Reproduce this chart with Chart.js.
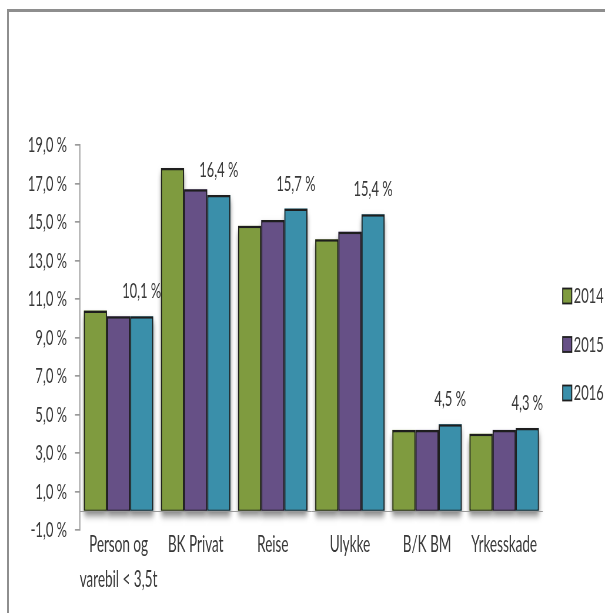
<!DOCTYPE html>
<html>
<head>
<meta charset="utf-8">
<script src="https://cdn.jsdelivr.net/npm/chart.js@4"></script>
<style>
    html, body { margin: 0; padding: 0; background: #ffffff; }
    #wrap { position: relative; width: 605px; height: 613px; overflow: hidden; }
    #frame {
        position: absolute; left: 7px; top: 9px; right: -10px; bottom: -10px;
        border-top: 3px solid #8e8e8e; border-left: 2px solid #8e8e8e;
    }
    /* the chart is drawn wide and squeezed back to 605px, which gives the tall narrow lettering */
    #squeeze { position: absolute; left: 0; top: 0; transform-origin: 0 0; }
</style>
</head>
<body>
<div id="wrap">
    <div id="frame"></div>
    <div id="squeeze"><canvas id="chart"></canvas></div>
</div>
<script>
const categories = [['Person og', 'varebil < 3,5t'], 'BK Privat', 'Reise', 'Ulykke', 'B/K BM', 'Yrkesskade'];
const years = ['2014', '2015', '2016'];
const values2014 = [10.4, 17.8, 14.8, 14.1, 4.2, 4.0];
const values2015 = [10.1, 16.7, 15.1, 14.5, 4.2, 4.2];
const values2016 = [10.1, 16.4, 15.7, 15.4, 4.5, 4.3];
const yTicks = [-1, 1, 3, 5, 7, 9, 11, 13, 15, 17, 19];

const SX = 1.7;            // horizontal squeeze factor
const W = 605, H = 613;

const colors = {
    green: '#7f9b3f',
    purple: '#665086',
    teal: '#3a8faa',
    edge: '#1e1e1e',
    axis: '#9a9a9a',
    text: '#383838'
};
const fontFamily = 'Lato, "Liberation Sans", sans-serif';

const canvas = document.getElementById('chart');
canvas.width = Math.round(W * SX);
canvas.height = H;
canvas.style.width = Math.round(W * SX) + 'px';
canvas.style.height = H + 'px';
document.getElementById('squeeze').style.transform = 'scaleX(' + (W / Math.round(W * SX)) + ')';

const fmt = function (v) {
    return v.toFixed(1).replace('.', ',') + ' %';
};

const barStyle = function (label, data, color) {
    return {
        label: label,
        data: data,
        backgroundColor: color,
        borderColor: colors.edge,
        borderWidth: { top: 2.5, left: 2, right: 2, bottom: 1.2 },
        borderSkipped: false,
        categoryPercentage: 0.9,
        barPercentage: 1.0
    };
};

// soft shadow under every bar, drawn before the bars themselves
const shadowPlugin = {
    id: 'barShadow',
    beforeDatasetsDraw: function (chart) {
        const ctx = chart.ctx;
        ctx.save();
        ctx.shadowColor = 'rgba(0,0,0,0.5)';
        ctx.shadowBlur = 7;
        ctx.shadowOffsetY = 5;
        chart.data.datasets.forEach(function (ds, i) {
            chart.getDatasetMeta(i).data.forEach(function (bar) {
                const p = bar.getProps(['x', 'y', 'base', 'width'], true);
                ctx.fillStyle = ds.backgroundColor;
                ctx.fillRect(p.x - p.width / 2, Math.min(p.y, p.base), p.width, Math.abs(p.base - p.y));
            });
        });
        ctx.restore();
    }
};

// horizontal axis line at zero
const zeroLinePlugin = {
    id: 'zeroLine',
    beforeDatasetsDraw: function (chart) {
        const ctx = chart.ctx;
        const area = chart.chartArea;
        const y = Math.round(chart.scales.y.getPixelForValue(0)) + 0.5;
        ctx.save();
        ctx.strokeStyle = colors.axis;
        ctx.lineWidth = 1;
        ctx.beginPath();
        ctx.moveTo(area.left, y);
        ctx.lineTo(area.right, y);
        ctx.stroke();
        ctx.restore();
    }
};

// value labels above the 2016 bars
const valueLabelPlugin = {
    id: 'valueLabels',
    afterDatasetsDraw: function (chart) {
        const ctx = chart.ctx;
        const last = chart.data.datasets.length - 1;
        const ds = chart.data.datasets[last];
        ctx.save();
        ctx.fillStyle = colors.text;
        ctx.font = '22px ' + fontFamily;
        ctx.textAlign = 'center';
        ctx.textBaseline = 'middle';
        chart.getDatasetMeta(last).data.forEach(function (bar, i) {
            ctx.fillText(fmt(ds.data[i]), bar.x, bar.y - 25);
        });
        ctx.restore();
    }
};

// legend on the right, one item per year
const legendPlugin = {
    id: 'sideLegend',
    afterDraw: function (chart) {
        const ctx = chart.ctx;
        ctx.save();
        ctx.font = '22px ' + fontFamily;
        ctx.textBaseline = 'middle';
        ctx.textAlign = 'left';
        chart.data.datasets.forEach(function (ds, i) {
            const cy = 296 + i * 48.5;
            const bx = 563 * SX;
            ctx.fillStyle = ds.backgroundColor;
            ctx.fillRect(bx, cy - 7.5, 9 * SX, 15);
            ctx.strokeStyle = colors.edge;
            ctx.lineWidth = 1.8;
            ctx.strokeRect(bx, cy - 7.5, 9 * SX, 15);
            ctx.fillStyle = colors.text;
            ctx.fillText(ds.label, 574 * SX, cy);
        });
        ctx.restore();
    }
};

new Chart(canvas, {
    type: 'bar',
    data: {
        labels: categories,
        datasets: [
            barStyle(years[0], values2014, colors.green),
            barStyle(years[1], values2015, colors.purple),
            barStyle(years[2], values2016, colors.teal)
        ]
    },
    options: {
        responsive: false,
        animation: false,
        layout: { padding: { top: 145, right: Math.round(W * SX) - 543 * SX, left: 0, bottom: 0 } },
        plugins: {
            legend: { display: false },
            tooltip: { enabled: false }
        },
        scales: {
            x: {
                grid: { display: false, drawTicks: false },
                border: { display: false },
                ticks: {
                    color: colors.text,
                    padding: -3,
                    autoSkip: false,
                    maxRotation: 0,
                    font: { family: fontFamily, size: 23, lineHeight: '35px' }
                },
                afterFit: function (scale) { scale.height = 83; }
            },
            y: {
                min: -1,
                max: 19,
                afterBuildTicks: function (scale) {
                    scale.ticks = yTicks.map(function (v) { return { value: v }; });
                },
                grid: { drawOnChartArea: false, drawTicks: true, tickLength: 5 * SX, color: colors.axis, lineWidth: SX },
                border: { display: true, color: colors.axis, width: SX },
                ticks: {
                    color: colors.text,
                    padding: 8 * SX,
                    font: { family: fontFamily, size: 22 },
                    callback: function (v) { return fmt(v); }
                },
                afterFit: function (scale) { scale.width = 80 * SX; }
            }
        }
    },
    plugins: [shadowPlugin, zeroLinePlugin, valueLabelPlugin, legendPlugin]
});
</script>
</body>
</html>
